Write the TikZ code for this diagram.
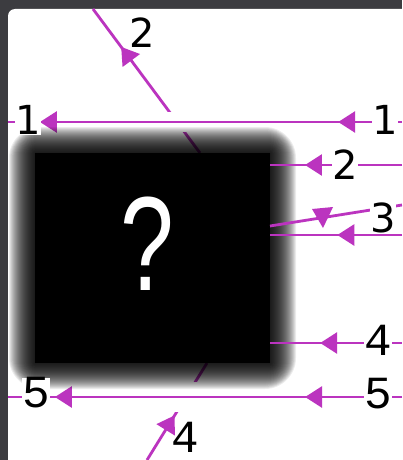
\documentclass[tikz,border=0pt]{standalone}
\usepackage{fontspec}
\usetikzlibrary{arrows.meta,decorations.markings}
\newfontfamily\lblA{DejaVu Sans}
\newfontfamily\lblB{Liberation Mono}
\newfontfamily\qfont[FakeStretch=0.72]{Liberation Sans}
\definecolor{mag}{HTML}{BB34BF}
\definecolor{bgdark}{HTML}{3C3C40}
\tikzset{
  wire/.style={draw=mag, line width=2.8pt},
  onetip/.style={postaction={decorate,decoration={markings,
      mark=at position #1 with {\arrow{>}}}}},
  twotips/.style 2 args={postaction={decorate,decoration={markings,
      mark=at position #1 with {\arrow{>}},
      mark=at position #2 with {\arrow{>}}}}},
  lblsans/.style={fill=white, inner xsep=0pt, inner ysep=0pt, font=\lblA\fontsize{40}{40}\selectfont},
  lblmono/.style={fill=white, inner xsep=0pt, inner ysep=0pt, font=\lblB\fontsize{46}{46}\selectfont},
  corebox/.style={fill=black, minimum width=235pt, minimum height=210pt, inner sep=0pt, outer sep=0pt},
}
\begin{document}
\begin{tikzpicture}[x=1pt,y=-1pt, >={Triangle[length=17pt,width=21pt]}]
\useasboundingbox (0,0) rectangle (402,460);
\fill[bgdark] (0,0) rectangle (402,460);
\begin{scope}
  \clip (0,0) rectangle (402,460);
  \fill[white, rounded corners=7pt] (8,9) rectangle (430,490);
\end{scope}
% diagonals (under the halo)
\coordinate (t2) at (93,9);
\coordinate (d2in) at (200,153);
\coordinate (b4) at (147,460);
\coordinate (d4in) at (207,363);
\draw[wire, onetip=0.737] (d2in) -- (t2);
\draw[wire, onetip=0.46] (b4) -- (d4in);
% long horizontal lines with white gaps where they cross
\coordinate (l1L) at (8,122); \coordinate (l1R) at (402,122);
\coordinate (l5L) at (8,397); \coordinate (l5R) at (402,397);
\draw[white, line width=20pt] (l1L) -- (l1R);
\draw[white, line width=30pt] (l5L) -- (l5R);
\draw[wire, twotips={0.162}{0.919}] (l1R) -- (l1L);
\draw[wire, twotips={0.246}{0.881}] (l5R) -- (l5L);
% blurred box
\begin{scope}
  \clip[rounded corners=7pt] (8,9) rectangle (430,490);
  \foreach \r in {1,2,...,26}
    \fill[black, opacity=0.075, rounded corners={\r*1.2pt}] ({35-\r},{153-\r}) rectangle ({270+\r},{363+\r});
\end{scope}
\node[corebox] (box) at (152.5,258) {};
\node[font=\qfont\fontsize{134}{134}\selectfont, text=white, inner sep=0pt] (q) at (147,244) {?};
% short lines on the right
\coordinate (r2) at (402,165);
\draw[wire, onetip=0.735] (r2) -- (r2 -| box.east);
\coordinate (r3b) at (402,235);
\draw[wire, onetip=0.49] (r3b) -- (r3b -| box.east);
\coordinate (r3a) at (402,205);
\coordinate (e3a) at (270,226);
\draw[wire] (r3a) -- (e3a);
\coordinate (h1) at (312,209); \coordinate (h2) at (333,207); \coordinate (h3) at (323,228);
\fill[mag] (h1) -- (h2) -- (h3) -- cycle;
\coordinate (r4) at (402,343);
\draw[wire, onetip=0.62] (r4) -- (r4 -| box.east);
% labels
\node[lblsans] (n1L) at (28,120) {1};
\node[lblsans] (n1R) at (385,120) {1};
\node[lblsans, fill=none] (n2T) at (142,33) {2};
\node[lblsans] (n2R) at (345,165) {2};
\node[lblsans] (n3) at (383,218) {3};
\node[lblmono] (n4R) at (378,340) {4};
\node[lblmono] (n5R) at (378,394) {5};
\node[lblmono] (n5L) at (36,393) {5};
\node[lblmono, fill=none] (n4B) at (185,437) {4};
\end{tikzpicture}
\end{document}
